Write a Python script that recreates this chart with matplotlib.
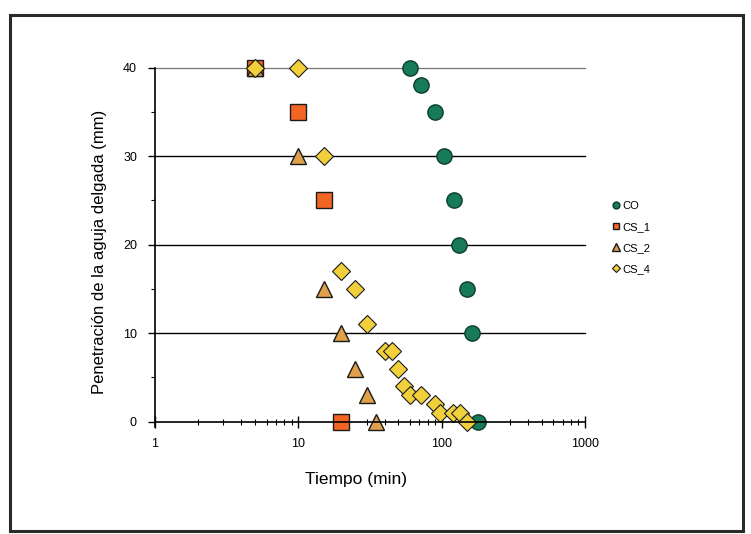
import numpy as np
import matplotlib
matplotlib.use("Agg")
import matplotlib.pyplot as plt
from matplotlib.patches import Rectangle
from matplotlib.ticker import FixedLocator, NullFormatter, LogLocator

plt.rcParams['font.family'] = ['Liberation Sans', 'DejaVu Sans']

# datos
co_t = [60, 72, 90, 104, 122, 133, 151, 162, 180]
co_p = [40, 38, 35, 30, 25, 20, 15, 10, 0]

cs1_t = [5, 10, 15, 20]
cs1_p = [40, 35, 25, 0]

cs2_t = [5, 10, 15, 20, 25, 30, 35]
cs2_p = [40, 30, 15, 10, 6, 3, 0]

cs4_t = [5, 10, 15, 20, 25, 30, 40, 45, 50, 55, 60, 72, 90, 97, 120, 135, 150]
cs4_p = [40, 40, 30, 17, 15, 11, 8, 8, 6, 4, 3, 3, 2, 1, 1, 1, 0]

fig = plt.figure(figsize=(7.51, 5.34), dpi=100)
ax = fig.add_axes([0.2064, 0.2103, 0.5725, 0.6629])

# marco exterior
fig.patches.append(Rectangle((0.0133, 0.006), 0.976, 0.966, transform=fig.transFigure,
                             fill=False, edgecolor='#2a2a2a', linewidth=2.2))

ax.plot(co_t, co_p, 'o', ms=11, mfc='#177a58', mec='#0d3d2c', mew=1.0, linestyle='none', label='CO')
ax.plot(cs1_t, cs1_p, 's', ms=11, mfc='#f26522', mec='#1a1a1a', mew=1.0, linestyle='none', label='CS_1')
ax.plot(cs2_t, cs2_p, '^', ms=12, mfc='#dfa04a', mec='#1a1a1a', mew=1.0, linestyle='none', label='CS_2')
ax.plot(cs4_t, cs4_p, 'D', ms=9, mfc='#f2d03c', mec='#1a1a1a', mew=0.8, linestyle='none', label='CS_4')

ax.set_xscale('log')
ax.set_xlim(1, 1000)
ax.set_ylim(0, 40)
ax.set_xticks([1, 10, 100, 1000])
ax.set_xticklabels(['1', '10', '100', '1000'])
ax.xaxis.set_minor_locator(LogLocator(base=10, subs=np.arange(2, 10)))
ax.xaxis.set_minor_formatter(NullFormatter())
ax.set_yticks([0, 10, 20, 30, 40])
ax.yaxis.set_minor_locator(FixedLocator([5, 15, 25, 35]))

for yv in [10, 20, 30]:
    ax.axhline(yv, color='black', lw=1.0, zorder=0)
ax.axhline(40, color='#777777', lw=0.9, zorder=0)

for s in ['top', 'right']:
    ax.spines[s].set_visible(False)
ax.spines['left'].set_linewidth(1.2)
ax.spines['bottom'].set_linewidth(1.2)
ax.spines['left'].set_bounds(-0.6, 40)

ax.tick_params(axis='x', which='major', direction='inout', length=8, width=1, labelsize=9, pad=8)
ax.tick_params(axis='x', which='minor', direction='inout', length=4, width=0.8)
ax.tick_params(axis='y', which='major', direction='out', length=5, width=1, labelsize=9, pad=8)
ax.tick_params(axis='y', which='minor', direction='out', length=3, width=0.8)

ax.set_xlabel('Tiempo (min)', fontsize=12.5)
ax.set_ylabel('Penetración de la aguja delgada (mm)', fontsize=12)
ax.xaxis.set_label_coords(0.467, -0.141)
ax.yaxis.set_label_coords(-0.112, 0.48)

for sp in ax.spines.values():
    sp.set_clip_on(False)
for ln in ax.lines:
    ln.set_clip_on(False)

leg = ax.legend(loc='center left', bbox_to_anchor=(1.064, 0.52), frameon=False,
                fontsize=8, markerscale=0.45, handlelength=0.6, handletextpad=0.25,
                labelspacing=1.0, borderaxespad=0, borderpad=0)

fig.savefig('out.png', dpi=100)
